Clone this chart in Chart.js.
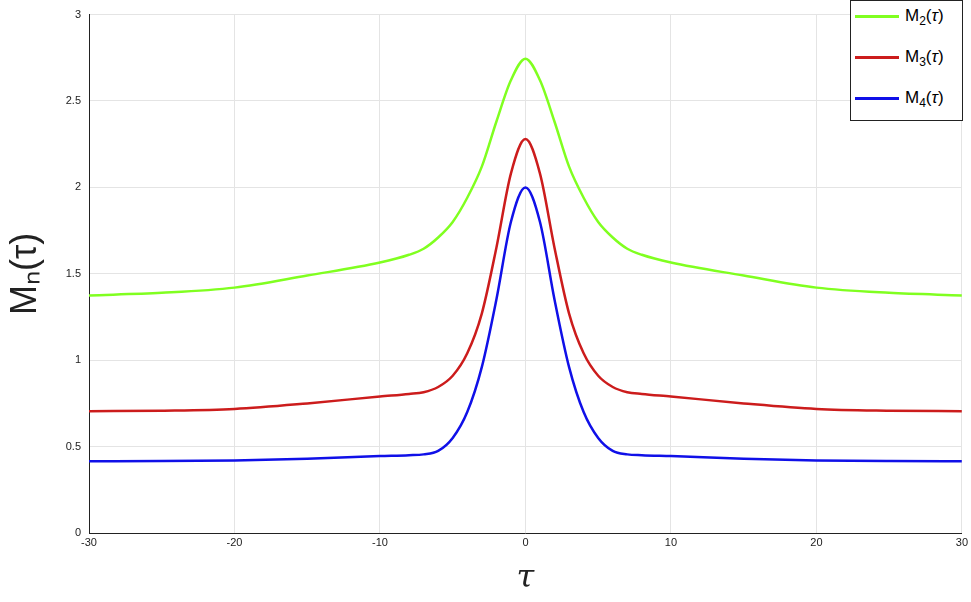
<!DOCTYPE html>
<html><head><meta charset="utf-8">
<script src="https://cdn.jsdelivr.net/npm/chart.js@4/dist/chart.umd.min.js"></script>
<style>
body{margin:0;background:#fff;font-family:"Liberation Sans",Arial,sans-serif}
#wrap{position:relative;width:971px;height:602px}
#lg{position:absolute;left:850px;top:0px;width:113px;height:121px;border:1px solid #222;background:#fff;font-size:17px;box-sizing:border-box}
#lg div{position:absolute;left:4px;top:0;height:20px;line-height:20px;white-space:nowrap}
#lg span.l{display:inline-block;width:44px;height:3px;margin-right:6px;vertical-align:middle}
#lg sub{font-size:12px;vertical-align:-4px}
</style></head><body>
<div id="wrap"><canvas id="c" width="971" height="602"></canvas>
<div id="lg">
<div style="top:5px"><span class="l" style="background:#80ff20"></span>M<sub>2</sub>(<i>τ</i>)</div>
<div style="top:46px"><span class="l" style="background:#cc1c1c"></span>M<sub>3</sub>(<i>τ</i>)</div>
<div style="top:87px"><span class="l" style="background:#1010e8"></span>M<sub>4</sub>(<i>τ</i>)</div>
</div></div>
<script>
const tau=[-30,-25,-20,-15,-10,-8,-7,-6,-5,-4,-3,-2,-1,0,1,2,3,4,5,6,7,8,10,15,20,25,30];
const half2=[1.375,1.39,1.42,1.49,1.565,1.61,1.645,1.71,1.8,1.94,2.12,2.38,2.62,2.745];
const half3=[0.705,0.708,0.718,0.75,0.79,0.805,0.815,0.845,0.91,1.04,1.27,1.65,2.08,2.28];
const half4=[0.415,0.416,0.42,0.43,0.445,0.45,0.455,0.475,0.55,0.7,0.96,1.35,1.8,2.0];
function full(h){return h.concat(h.slice(0,-1).reverse());}
const m2=full(half2),m3=full(half3),m4=full(half4);
const mk=(d,c)=>({data:tau.map((x,i)=>({x,y:d[i]})),borderColor:c,borderWidth:2.5,pointRadius:0,cubicInterpolationMode:'monotone',fill:false});
new Chart(document.getElementById('c'),{type:'line',
data:{datasets:[mk(m2,'#80ff20'),mk(m3,'#cc1c1c'),mk(m4,'#1010e8')]},
options:{responsive:false,animation:false,layout:{padding:{top:-6,right:8,left:0,bottom:0}},
plugins:{legend:{display:false},tooltip:{enabled:false}},
scales:{
x:{type:'linear',min:-30,max:30,ticks:{stepSize:10,color:'#222',font:{size:11}},grid:{color:'#e4e4e4',drawTicks:false},border:{color:'#222'},
title:{display:true,text:'τ',font:{size:32,style:'italic',family:'DejaVu Serif'},color:'#222',padding:{top:2}},afterFit:s=>{s.height=69}},
y:{min:0,max:3,ticks:{stepSize:0.5,color:'#222',font:{size:11},padding:8,callback:v=>String(v)},grid:{color:'#e4e4e4',drawTicks:false},border:{color:'#222'},
title:{display:true,text:'Mₙ(τ)',font:{size:36},color:'#222'},afterFit:s=>{s.width=89}}}}});
</script></body></html>
